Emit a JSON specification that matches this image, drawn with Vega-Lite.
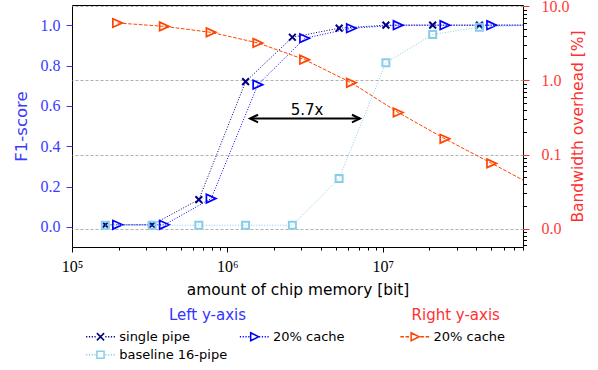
{
  "$schema": "https://vega.github.io/schema/vega-lite/v6.json",
  "width": 451,
  "height": 242,
  "autosize": "none",
  "padding": {"left": 72, "top": 5, "right": 75, "bottom": 123},
  "background": "white",
  "config": {
    "view": {"stroke": "black", "strokeWidth": 1},
    "axis": {"labelFont": "Liberation Serif", "labelFontSize": 15.5, "titleFont": "DejaVu Sans", "titleFontWeight": "normal", "domain": false, "grid": false, "labelFlush": false, "labelOverlap": false, "tickWidth": 1},
    "legend": {"labelFont": "DejaVu Sans", "labelFontSize": 13, "labelColor": "black", "titleFont": "DejaVu Sans", "titleFontSize": 15, "titleFontWeight": "normal", "orient": "none", "titleAnchor": "middle", "symbolSize": 256, "symbolStrokeWidth": 1.5, "labelOffset": 9.75, "rowPadding": 2}
  },
  "datasets": {
    "curves": [
      {"series": "single pipe", "mem": 163840, "f1": 0.01},
      {"series": "single pipe", "mem": 327680, "f1": 0.01},
      {"series": "single pipe", "mem": 655360, "f1": 0.135},
      {"series": "single pipe", "mem": 1310720, "f1": 0.72},
      {"series": "single pipe", "mem": 2621440, "f1": 0.94},
      {"series": "single pipe", "mem": 5242880, "f1": 0.985},
      {"series": "single pipe", "mem": 10485760, "f1": 1.0},
      {"series": "single pipe", "mem": 20971520, "f1": 1.0},
      {"series": "single pipe", "mem": 41943040, "f1": 1.0},
      {"series": "single pipe", "mem": 83886080, "f1": 1.0},
      {"series": "20% cache", "mem": 196608, "f1": 0.01, "overhead": 5.97},
      {"series": "20% cache", "mem": 393216, "f1": 0.01, "overhead": 5.37},
      {"series": "20% cache", "mem": 786432, "f1": 0.14, "overhead": 4.46},
      {"series": "20% cache", "mem": 1572864, "f1": 0.705, "overhead": 3.21},
      {"series": "20% cache", "mem": 3145728, "f1": 0.935, "overhead": 1.91},
      {"series": "20% cache", "mem": 6291456, "f1": 0.985, "overhead": 0.93},
      {"series": "20% cache", "mem": 12582912, "f1": 1.0, "overhead": 0.37},
      {"series": "20% cache", "mem": 25165824, "f1": 1.0, "overhead": 0.163},
      {"series": "20% cache", "mem": 50331648, "f1": 1.0, "overhead": 0.076},
      {"series": "20% cache", "mem": 100663296, "f1": 1.0, "overhead": 0.035},
      {"series": "baseline 16-pipe", "mem": 163840, "f1": 0.008},
      {"series": "baseline 16-pipe", "mem": 327680, "f1": 0.008},
      {"series": "baseline 16-pipe", "mem": 655360, "f1": 0.008},
      {"series": "baseline 16-pipe", "mem": 1310720, "f1": 0.008},
      {"series": "baseline 16-pipe", "mem": 2621440, "f1": 0.008},
      {"series": "baseline 16-pipe", "mem": 5242880, "f1": 0.24},
      {"series": "baseline 16-pipe", "mem": 10485760, "f1": 0.814},
      {"series": "baseline 16-pipe", "mem": 20971520, "f1": 0.954},
      {"series": "baseline 16-pipe", "mem": 41943040, "f1": 0.99},
      {"series": "baseline 16-pipe", "mem": 83886080, "f1": 1.0}
    ],
    "arrowLine": [{"mem": 1400000, "mem2": 7140000, "f1": 0.537}],
    "arrowHeads": [{"mem": 1400000, "f1": 0.537, "end": "left"}, {"mem": 7140000, "f1": 0.537, "end": "right"}],
    "arrowText": [{"mem": 3260000, "f1": 0.578, "label": "5.7x"}],
    "leftLegend": [{"entry": "single pipe"}, {"entry": "20% cache"}, {"entry": "baseline 16-pipe"}],
    "rightLegend": [{"entry": "20% cache"}]
  },
  "layer": [
    {
      "data": {"name": "curves"},
      "encoding": {
        "x": {"field": "mem", "type": "quantitative", "scale": {"type": "log", "domain": [100000, 80000000], "nice": false},
          "axis": {"title": "amount of chip memory [bit]", "titleFontSize": 15.4, "titleColor": "black", "titlePadding": 8,
            "values": [100000, 200000, 300000, 400000, 500000, 600000, 700000, 800000, 900000, 1000000, 2000000, 3000000, 4000000, 5000000, 6000000, 7000000, 8000000, 9000000, 10000000, 20000000, 30000000, 40000000, 50000000, 60000000, 70000000, 80000000],
            "labelExpr": "datum.value === 100000 ? '10⁵' : datum.value === 1000000 ? '10⁶' : datum.value === 10000000 ? '10⁷' : ''",
            "labelFont": "Liberation Serif", "labelFontSize": 16,
            "tickSize": {"condition": {"test": "datum.value === 100000 || datum.value === 1000000 || datum.value === 10000000", "value": 5}, "value": 3},
            "tickColor": "black", "labelColor": "black", "labelPadding": 6}},
        "y": {"field": "f1", "type": "quantitative", "scale": {"domain": [-0.1, 1.1], "nice": false, "zero": false},
          "axis": {"title": "F1-score", "titleColor": "#3a3aff", "titleFontSize": 16.5, "values": [0, 0.2, 0.4, 0.6, 0.8, 1], "format": ".1f",
            "labelFont": "Liberation Serif", "labelFontSize": 16,
            "tickSize": 6, "tickColor": "#3a3aff", "labelColor": "#3a3aff", "labelPadding": 6, "titlePadding": 11}}
      },
      "layer": [
        {
          "transform": [{"filter": "datum.series === 'single pipe'"}],
          "mark": {"type": "line", "clip": true, "color": "#000080", "strokeWidth": 1, "strokeDash": [1, 1.65]}
        },
        {
          "transform": [{"filter": "datum.series === 'single pipe' && datum.mem < 80000000"}],
          "mark": {"type": "point", "shape": "M-1,-1L1,1M-1,1L1,-1", "size": 46, "filled": false, "color": "#000080", "strokeWidth": 2, "opacity": 1}
        },
        {
          "transform": [{"filter": "datum.series === '20% cache'"}],
          "mark": {"type": "line", "clip": true, "color": "#0000ff", "strokeWidth": 1, "strokeDash": [1, 1.65]}
        },
        {
          "transform": [{"filter": "datum.series === '20% cache' && datum.mem < 80000000"}],
          "mark": {"type": "point", "shape": "M-1,-0.9L1,0L-1,0.9Z", "size": 90, "filled": false, "color": "#0000ff", "strokeWidth": 1.7, "opacity": 1}
        },
        {
          "transform": [{"filter": "datum.series === 'baseline 16-pipe'"}],
          "mark": {"type": "line", "clip": true, "color": "#87ceeb", "strokeWidth": 1, "strokeDash": [1, 1.65]}
        },
        {
          "transform": [{"filter": "datum.series === 'baseline 16-pipe' && datum.mem < 80000000"}],
          "mark": {"type": "point", "shape": "square", "size": 49, "filled": false, "color": "#87ceeb", "strokeWidth": 2, "opacity": 1}
        },
        {
          "data": {"name": "arrowLine"},
          "mark": {"type": "rule", "color": "black", "strokeWidth": 2},
          "encoding": {"x2": {"field": "mem2"}}
        },
        {
          "data": {"name": "arrowHeads"},
          "mark": {"type": "point", "size": 64, "filled": false, "color": "black", "strokeWidth": 2, "opacity": 1},
          "encoding": {"shape": {"field": "end", "type": "nominal", "scale": {"domain": ["left", "right"], "range": ["M2,-0.95L0,0L2,0.95", "M-2,-0.95L0,0L-2,0.95"]}, "legend": null}}
        },
        {
          "data": {"name": "arrowText"},
          "mark": {"type": "text", "font": "DejaVu Sans", "fontSize": 15, "color": "black", "align": "center", "baseline": "middle"},
          "encoding": {"text": {"field": "label"}}
        }
      ]
    },
    {
      "data": {"name": "curves"},
      "transform": [{"filter": "datum.series === '20% cache'"}],
      "encoding": {
        "x": {"field": "mem", "type": "quantitative", "scale": {"type": "log", "domain": [100000, 80000000], "nice": false},
          "axis": {"title": "amount of chip memory [bit]", "titleFontSize": 15.4, "titleColor": "black", "titlePadding": 8,
            "values": [100000, 200000, 300000, 400000, 500000, 600000, 700000, 800000, 900000, 1000000, 2000000, 3000000, 4000000, 5000000, 6000000, 7000000, 8000000, 9000000, 10000000, 20000000, 30000000, 40000000, 50000000, 60000000, 70000000, 80000000],
            "labelExpr": "datum.value === 100000 ? '10⁵' : datum.value === 1000000 ? '10⁶' : datum.value === 10000000 ? '10⁷' : ''",
            "labelFont": "Liberation Serif", "labelFontSize": 16,
            "tickSize": {"condition": {"test": "datum.value === 100000 || datum.value === 1000000 || datum.value === 10000000", "value": 5}, "value": 3},
            "tickColor": "black", "labelColor": "black", "labelPadding": 6}},
        "y": {"field": "overhead", "type": "quantitative", "scale": {"type": "log", "domain": [0.00565, 10.44], "nice": false},
          "axis": {"orient": "right", "title": "Bandwidth overhead [%]", "titleColor": "#ff3030", "titleFontSize": 15.5, "titleAngle": 270,
            "values": [0.006, 0.007, 0.008, 0.009, 0.01, 0.02, 0.03, 0.04, 0.05, 0.06, 0.07, 0.08, 0.09, 0.1, 0.2, 0.3, 0.4, 0.5, 0.6, 0.7, 0.8, 0.9, 1, 2, 3, 4, 5, 6, 7, 8, 9, 10],
            "labelExpr": "datum.value === 0.01 ? '0.0' : datum.value === 0.1 ? '0.1' : datum.value === 1 ? '1.0' : datum.value === 10 ? '10.0' : ''",
            "labelFont": "Liberation Serif", "labelFontSize": 16,
            "tickSize": {"condition": {"test": "indexof([0.01, 0.1, 1, 10], datum.value) >= 0", "value": 6}, "value": 3.5},
            "tickColor": {"condition": {"test": "indexof([0.01, 0.1, 1, 10], datum.value) >= 0", "value": "#ff3030"}, "value": "black"},
            "labelColor": "#ff3b3b", "labelPadding": 12, "titlePadding": 16,
            "grid": true, "gridColor": "#b0b0b0", "gridDash": [3, 2], "gridWidth": 1,
            "gridOpacity": {"condition": {"test": "indexof([0.01, 0.1, 1, 10], datum.value) >= 0", "value": 1}, "value": 0}}}
      },
      "layer": [
        {
          "mark": {"type": "line", "clip": true, "color": "#ff4500", "strokeWidth": 1, "strokeDash": [3.7, 1.6]}
        },
        {
          "transform": [{"filter": "datum.mem < 80000000"}],
          "mark": {"type": "point", "shape": "M-1,-0.9L1,0L-1,0.9Z", "size": 90, "filled": false, "color": "#ff4500", "strokeWidth": 1.7, "opacity": 1}
        }
      ]
    },
    {
      "data": {"name": "leftLegend"},
      "transform": [{"filter": "false"}],
      "mark": {"type": "point", "filled": false, "strokeWidth": 1.5, "size": 256, "opacity": 1},
      "encoding": {
        "shape": {"field": "entry", "type": "nominal",
          "scale": {"domain": ["single pipe", "20% cache", "baseline 16-pipe"],
            "range": [
              "M-1.8,0h0.15M-1.45,0h0.15M-1.1,0h0.15M-0.75,0h0.15M0.6,0h0.15M0.95,0h0.15M1.3,0h0.15M1.65,0h0.15M-0.45,-0.45L0.45,0.45M-0.45,0.45L0.45,-0.45",
              "M-1.8,0h0.15M-1.45,0h0.15M-1.1,0h0.15M-0.75,0h0.15M0.6,0h0.15M0.95,0h0.15M1.3,0h0.15M1.65,0h0.15M-0.45,-0.5L0.55,0L-0.45,0.5Z",
              "M-1.8,0h0.15M-1.45,0h0.15M-1.1,0h0.15M-0.75,0h0.15M0.6,0h0.15M0.95,0h0.15M1.3,0h0.15M1.65,0h0.15M-0.45,-0.45h0.9v0.9h-0.9Z"
            ]},
          "legend": {"title": "Left y-axis\u2800\u2800", "titleColor": "#3333ff", "columns": 2, "direction": "horizontal", "columnPadding": 8.75, "orient": "none", "legendX": 19.5, "legendY": 302.75}},
        "stroke": {"field": "entry", "type": "nominal",
          "scale": {"domain": ["single pipe", "20% cache", "baseline 16-pipe"], "range": ["#000080", "#0000ff", "#87ceeb"]},
          "legend": {"title": "Left y-axis\u2800\u2800", "titleColor": "#3333ff", "columns": 2, "direction": "horizontal", "columnPadding": 8.75, "orient": "none", "legendX": 19.5, "legendY": 302.75}}
      }
    },
    {
      "data": {"name": "rightLegend"},
      "transform": [{"filter": "false"}],
      "mark": {"type": "point", "filled": false, "strokeWidth": 1.5, "size": 256, "opacity": 1},
      "encoding": {
        "shape": {"field": "entry", "type": "nominal",
          "scale": {"domain": ["20% cache"],
            "range": ["M-1.8,0h0.45M-1.15,0h0.45M0.7,0h0.45M1.35,0h0.45M-0.45,-0.5L0.55,0L-0.45,0.5Z"]},
          "legend": {"title": "Right y-axis", "titleColor": "#ff3030", "orient": "none", "legendX": 333.75, "legendY": 302.75}},
        "stroke": {"field": "entry", "type": "nominal",
          "scale": {"domain": ["20% cache"], "range": ["#ff4500"]},
          "legend": {"title": "Right y-axis", "titleColor": "#ff3030", "orient": "none", "legendX": 333.75, "legendY": 302.75}}
      }
    }
  ],
  "resolve": {"scale": {"y": "independent", "shape": "independent", "stroke": "independent"}}
}
